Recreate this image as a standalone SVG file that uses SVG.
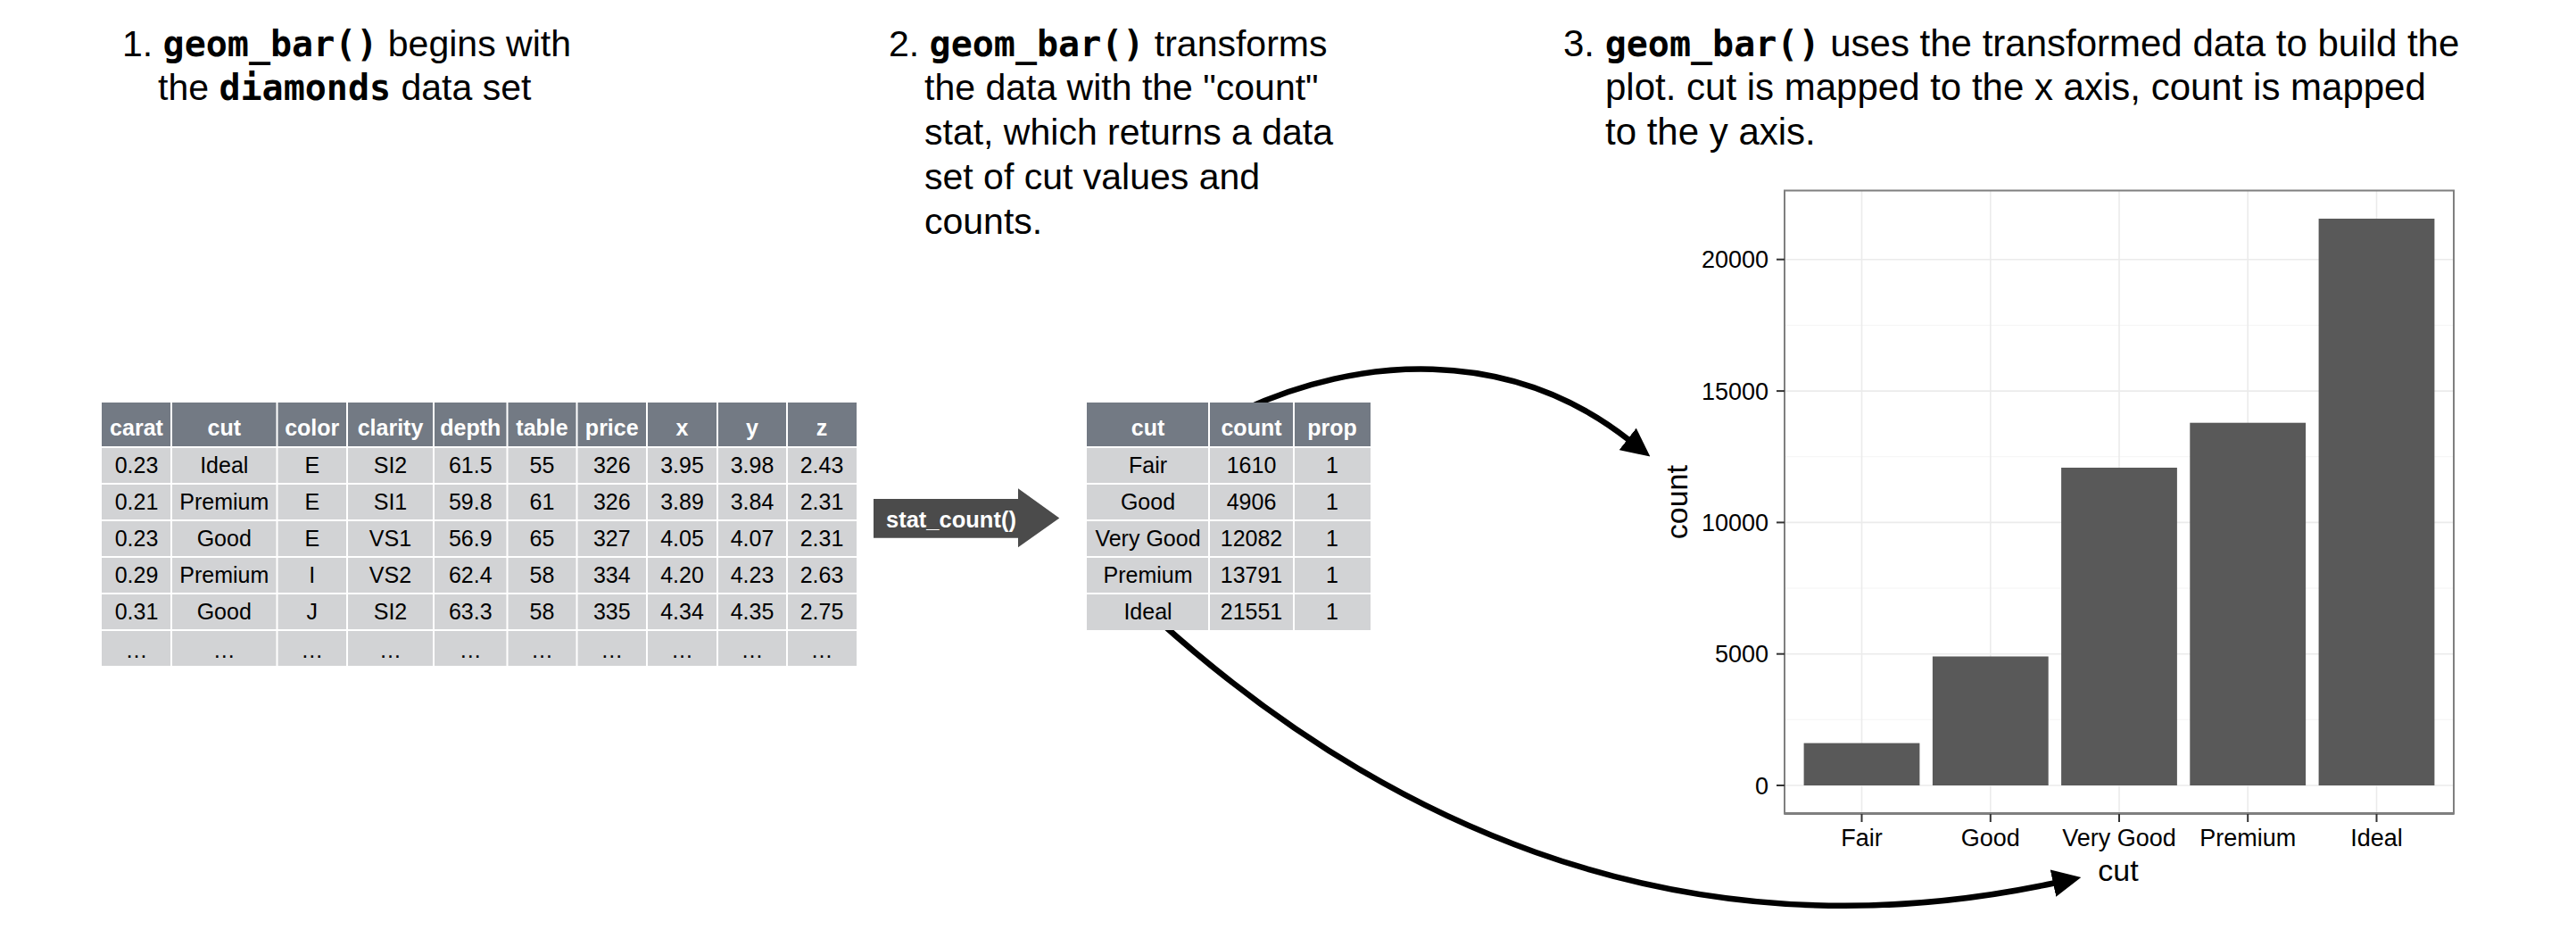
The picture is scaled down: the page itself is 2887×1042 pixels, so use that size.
<svg xmlns="http://www.w3.org/2000/svg" width="2887" height="1042" viewBox="0 0 2887 1042">
<defs>
<style>
.t{font-family:"Liberation Sans",Arial,sans-serif;font-size:41px;fill:#000}
.t3{font-size:42px}
.m{font-family:"DejaVu Sans Mono","Liberation Mono",monospace;font-weight:bold;font-size:40px}
.th{font-family:"Liberation Sans",Arial,sans-serif;font-weight:bold;font-size:25px;fill:#fff;text-anchor:middle}
.td{font-family:"Liberation Sans",Arial,sans-serif;font-size:25px;fill:#000;text-anchor:middle}
.hdr{fill:#737a84}
.bdy{fill:#d2d3d5}
.sep{stroke:#fff;stroke-width:2}
.gM{stroke:#ebebeb;stroke-width:1.6}
.gm{stroke:#f4f4f4;stroke-width:1}
.bar{fill:#595959}
.tick{stroke:#333;stroke-width:2}
.axt{font-family:"Liberation Sans",Arial,sans-serif;font-size:27px;fill:#000}
.axl{font-family:"Liberation Sans",Arial,sans-serif;font-size:34px;fill:#000;text-anchor:middle}
.conn{fill:none;stroke:#000;stroke-width:6.5}
</style>
<marker id="ah" markerUnits="userSpaceOnUse" viewBox="0 0 32 31" refX="1" refY="15.5" markerWidth="32" markerHeight="31" orient="auto">
<path d="M0,0 L32,15.5 L0,31 z" fill="#000"/>
</marker>
</defs>
<rect width="2887" height="1042" fill="#fff"/>

<g id="titles">
<text class="t" x="137" y="63">1. <tspan class="m">geom_bar()</tspan> begins with</text>
<text class="t" x="177" y="112">the <tspan class="m">diamonds</tspan> data set</text>
<text class="t" x="996" y="63">2. <tspan class="m">geom_bar()</tspan> transforms</text>
<text class="t" x="1036" y="112">the data with the "count"</text>
<text class="t" x="1036" y="162">stat, which returns a data</text>
<text class="t" x="1036" y="212">set of cut values and</text>
<text class="t" x="1036" y="262">counts.</text>
<text class="t t3" x="1752" y="63">3. <tspan class="m">geom_bar()</tspan> uses the transformed data to build the</text>
<text class="t t3" x="1799" y="112">plot. cut is mapped to the x axis, count is mapped</text>
<text class="t t3" x="1799" y="162">to the y axis.</text>
</g>

<g id="connectors">
<path class="conn" d="M1393,459.5 C1520,400 1689,386 1825,492.5" marker-end="url(#ah)"/>
<path class="conn" d="M1298,695 C1528,902 1862,1083 2302,989.5" marker-end="url(#ah)"/>
</g>

<g id="table-diamonds">
<rect class="hdr" x="114" y="451" width="846" height="50"/>
<rect class="bdy" x="114" y="501" width="846" height="245"/>
<g class="sep">
<line x1="192" y1="451" x2="192" y2="746"/>
<line x1="310.5" y1="451" x2="310.5" y2="746"/>
<line x1="389" y1="451" x2="389" y2="746"/>
<line x1="486" y1="451" x2="486" y2="746"/>
<line x1="568.5" y1="451" x2="568.5" y2="746"/>
<line x1="646.5" y1="451" x2="646.5" y2="746"/>
<line x1="725" y1="451" x2="725" y2="746"/>
<line x1="804" y1="451" x2="804" y2="746"/>
<line x1="882" y1="451" x2="882" y2="746"/>
<line x1="114" y1="501" x2="960" y2="501"/>
<line x1="114" y1="542" x2="960" y2="542"/>
<line x1="114" y1="583" x2="960" y2="583"/>
<line x1="114" y1="624" x2="960" y2="624"/>
<line x1="114" y1="665" x2="960" y2="665"/>
<line x1="114" y1="706" x2="960" y2="706"/>
</g>
<text class="th" y="488"><tspan x="153">carat</tspan><tspan x="251.25">cut</tspan><tspan x="349.75">color</tspan><tspan x="437.5">clarity</tspan><tspan x="527.25">depth</tspan><tspan x="607.5">table</tspan><tspan x="685.75">price</tspan><tspan x="764.5">x</tspan><tspan x="843">y</tspan><tspan x="921">z</tspan></text>
<text class="td" y="530"><tspan x="153">0.23</tspan><tspan x="251.25">Ideal</tspan><tspan x="349.75">E</tspan><tspan x="437.5">SI2</tspan><tspan x="527.25">61.5</tspan><tspan x="607.5">55</tspan><tspan x="685.75">326</tspan><tspan x="764.5">3.95</tspan><tspan x="843">3.98</tspan><tspan x="921">2.43</tspan></text>
<text class="td" y="571"><tspan x="153">0.21</tspan><tspan x="251.25">Premium</tspan><tspan x="349.75">E</tspan><tspan x="437.5">SI1</tspan><tspan x="527.25">59.8</tspan><tspan x="607.5">61</tspan><tspan x="685.75">326</tspan><tspan x="764.5">3.89</tspan><tspan x="843">3.84</tspan><tspan x="921">2.31</tspan></text>
<text class="td" y="612"><tspan x="153">0.23</tspan><tspan x="251.25">Good</tspan><tspan x="349.75">E</tspan><tspan x="437.5">VS1</tspan><tspan x="527.25">56.9</tspan><tspan x="607.5">65</tspan><tspan x="685.75">327</tspan><tspan x="764.5">4.05</tspan><tspan x="843">4.07</tspan><tspan x="921">2.31</tspan></text>
<text class="td" y="653"><tspan x="153">0.29</tspan><tspan x="251.25">Premium</tspan><tspan x="349.75">I</tspan><tspan x="437.5">VS2</tspan><tspan x="527.25">62.4</tspan><tspan x="607.5">58</tspan><tspan x="685.75">334</tspan><tspan x="764.5">4.20</tspan><tspan x="843">4.23</tspan><tspan x="921">2.63</tspan></text>
<text class="td" y="694"><tspan x="153">0.31</tspan><tspan x="251.25">Good</tspan><tspan x="349.75">J</tspan><tspan x="437.5">SI2</tspan><tspan x="527.25">63.3</tspan><tspan x="607.5">58</tspan><tspan x="685.75">335</tspan><tspan x="764.5">4.34</tspan><tspan x="843">4.35</tspan><tspan x="921">2.75</tspan></text>
<text class="td" y="737"><tspan x="153">…</tspan><tspan x="251.25">…</tspan><tspan x="349.75">…</tspan><tspan x="437.5">…</tspan><tspan x="527.25">…</tspan><tspan x="607.5">…</tspan><tspan x="685.75">…</tspan><tspan x="764.5">…</tspan><tspan x="843">…</tspan><tspan x="921">…</tspan></text>
</g>

<g id="stat-count">
<polygon points="979,559 1141,559 1141,547.3 1187.3,580.5 1141,613.3 1141,602.7 979,602.7" fill="#4b4b4b"/>
<text x="993" y="591" font-family="Liberation Sans, Arial, sans-serif" font-weight="bold" font-size="25.5" fill="#fff">stat_count()</text>
</g>

<g id="table-counts">
<rect class="hdr" x="1218" y="451" width="318" height="50"/>
<rect class="bdy" x="1218" y="501" width="318" height="205"/>
<g class="sep">
<line x1="1355" y1="451" x2="1355" y2="706"/>
<line x1="1450" y1="451" x2="1450" y2="706"/>
<line x1="1218" y1="501" x2="1536" y2="501"/>
<line x1="1218" y1="542" x2="1536" y2="542"/>
<line x1="1218" y1="583" x2="1536" y2="583"/>
<line x1="1218" y1="624" x2="1536" y2="624"/>
<line x1="1218" y1="665" x2="1536" y2="665"/>
</g>
<text class="th" y="488"><tspan x="1286.5">cut</tspan><tspan x="1402.5">count</tspan><tspan x="1493">prop</tspan></text>
<text class="td" y="530"><tspan x="1286.5">Fair</tspan><tspan x="1402.5">1610</tspan><tspan x="1493">1</tspan></text>
<text class="td" y="571"><tspan x="1286.5">Good</tspan><tspan x="1402.5">4906</tspan><tspan x="1493">1</tspan></text>
<text class="td" y="612"><tspan x="1286.5">Very Good</tspan><tspan x="1402.5">12082</tspan><tspan x="1493">1</tspan></text>
<text class="td" y="653"><tspan x="1286.5">Premium</tspan><tspan x="1402.5">13791</tspan><tspan x="1493">1</tspan></text>
<text class="td" y="694"><tspan x="1286.5">Ideal</tspan><tspan x="1402.5">21551</tspan><tspan x="1493">1</tspan></text>
</g>

<g id="bar-chart">
<rect x="2000" y="213.5" width="750" height="698.2" fill="#fff"/>
<g class="gm">
<line x1="2000" y1="806.3" x2="2750" y2="806.3"/>
<line x1="2000" y1="659" x2="2750" y2="659"/>
<line x1="2000" y1="511.7" x2="2750" y2="511.7"/>
<line x1="2000" y1="364.4" x2="2750" y2="364.4"/>
</g>
<g class="gM">
<line x1="2000" y1="880" x2="2750" y2="880"/>
<line x1="2000" y1="732.7" x2="2750" y2="732.7"/>
<line x1="2000" y1="585.4" x2="2750" y2="585.4"/>
<line x1="2000" y1="438.1" x2="2750" y2="438.1"/>
<line x1="2000" y1="290.7" x2="2750" y2="290.7"/>
<line x1="2086.5" y1="213.5" x2="2086.5" y2="911.7"/>
<line x1="2230.8" y1="213.5" x2="2230.8" y2="911.7"/>
<line x1="2375" y1="213.5" x2="2375" y2="911.7"/>
<line x1="2519.2" y1="213.5" x2="2519.2" y2="911.7"/>
<line x1="2663.5" y1="213.5" x2="2663.5" y2="911.7"/>
</g>
<rect class="bar" x="2021.6" y="832.6" width="129.8" height="47.4"/>
<rect class="bar" x="2165.9" y="735.5" width="129.8" height="144.5"/>
<rect class="bar" x="2310.1" y="524" width="129.8" height="356"/>
<rect class="bar" x="2454.3" y="473.7" width="129.8" height="406.3"/>
<rect class="bar" x="2598.6" y="245" width="129.8" height="635"/>
<rect x="2000" y="213.5" width="750" height="698.2" fill="none" stroke="#7f7f7f" stroke-width="2"/>
<line x1="2000" y1="911.5" x2="2750" y2="911.5" stroke="#7f7f7f" stroke-width="3"/>
<g class="tick">
<line x1="1991" y1="880" x2="2000" y2="880"/>
<line x1="1991" y1="732.7" x2="2000" y2="732.7"/>
<line x1="1991" y1="585.4" x2="2000" y2="585.4"/>
<line x1="1991" y1="438.1" x2="2000" y2="438.1"/>
<line x1="1991" y1="290.7" x2="2000" y2="290.7"/>
<line x1="2086.5" y1="912" x2="2086.5" y2="921"/>
<line x1="2230.8" y1="912" x2="2230.8" y2="921"/>
<line x1="2375" y1="912" x2="2375" y2="921"/>
<line x1="2519.2" y1="912" x2="2519.2" y2="921"/>
<line x1="2663.5" y1="912" x2="2663.5" y2="921"/>
</g>
<g class="axt" text-anchor="end">
<text x="1982" y="889.5">0</text>
<text x="1982" y="742.2">5000</text>
<text x="1982" y="594.9">10000</text>
<text x="1982" y="447.6">15000</text>
<text x="1982" y="300.2">20000</text>
</g>
<g class="axt" text-anchor="middle">
<text x="2086.5" y="948">Fair</text>
<text x="2230.8" y="948">Good</text>
<text x="2375" y="948">Very Good</text>
<text x="2519.2" y="948">Premium</text>
<text x="2663.5" y="948">Ideal</text>
</g>
<text class="axl" x="2374" y="987">cut</text>
<text class="axl" transform="translate(1891,562.6) rotate(-90)">count</text>
</g>
</svg>
